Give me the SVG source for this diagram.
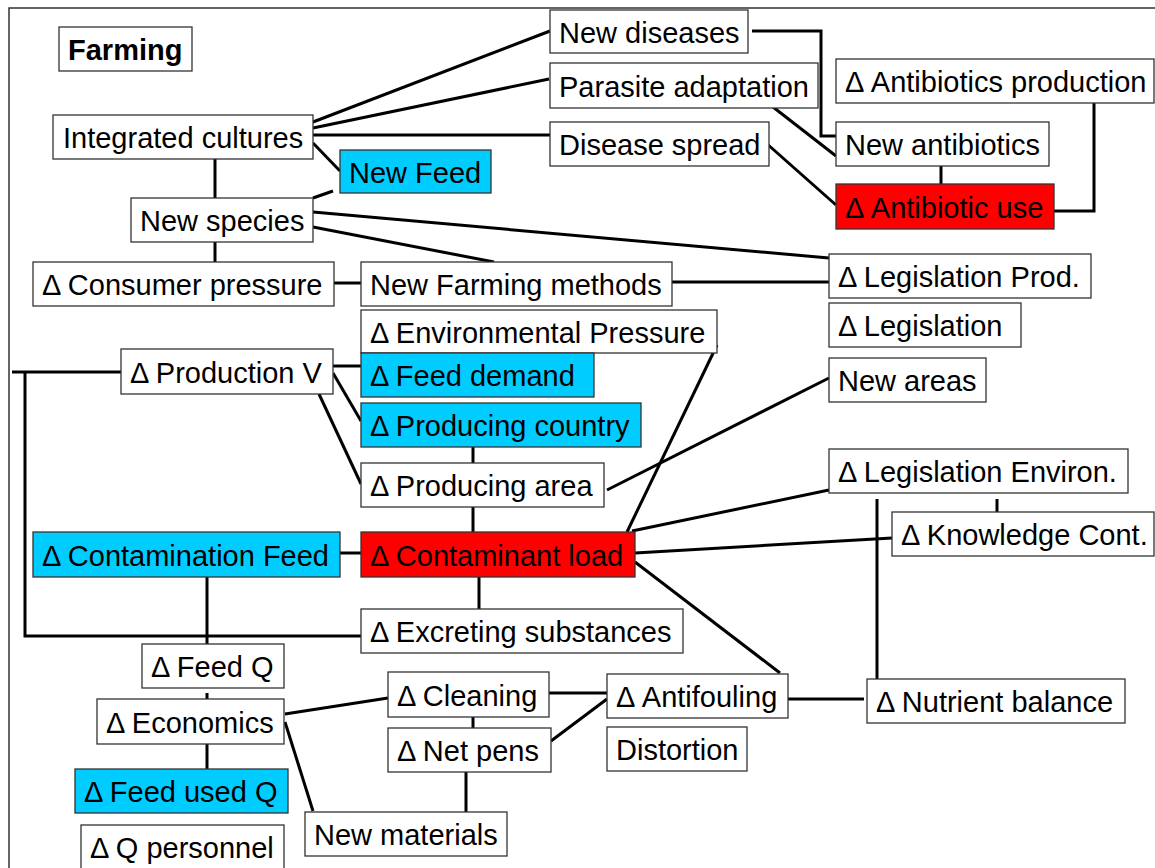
<svg xmlns="http://www.w3.org/2000/svg" width="1155" height="868" viewBox="0 0 1155 868">
<style>
.n rect{stroke:#333;stroke-width:1.3;fill:#fff}
.n.c rect{fill:#00CCFF}
.n.r rect{fill:#FF0000}
.n text{font-family:"Liberation Sans",Arial,sans-serif;font-size:29px;fill:#000}
#conn path{stroke:#000;stroke-width:3;fill:none}
</style>
<rect width="1155" height="868" fill="#fff"/>
<path d="M9,875 V8 H1165" fill="none" stroke="#333" stroke-width="1.5"/>
<g id="conn">
<path d="M313,122 L550,31"/>
<path d="M313,128 L549,79"/>
<path d="M313,135 H550"/>
<path d="M313,143 L340,171"/>
<path d="M215,159 V198"/>
<path d="M313,198 L333,191"/>
<path d="M313,212 L829,258"/>
<path d="M313,227 L494,262"/>
<path d="M215,242 V262"/>
<path d="M334,283 H361"/>
<path d="M672,282 H829"/>
<path d="M752,31 H821 V136 H836"/>
<path d="M773,107 L836,156"/>
<path d="M766,143 L836,205"/>
<path d="M941,166 V184"/>
<path d="M1094,103 V211 H1054"/>
<path d="M12,372 H121"/>
<path d="M25,372 V636 H361"/>
<path d="M333,366 H361"/>
<path d="M333,373 L361,421"/>
<path d="M319,394 L361,484"/>
<path d="M473,447 V463"/>
<path d="M473,507 V532"/>
<path d="M607,490 L829,378"/>
<path d="M627,532 L717,345"/>
<path d="M632,531 L829,490"/>
<path d="M635,553 L892,538"/>
<path d="M635,562 L780,673"/>
<path d="M340,553 H361"/>
<path d="M479,577 V609"/>
<path d="M207,577 V644"/>
<path d="M207,693 V699"/>
<path d="M207,744 V769"/>
<path d="M285,714 L388,698"/>
<path d="M285,722 L313,811"/>
<path d="M473,717 V728"/>
<path d="M466,772 V812"/>
<path d="M549,693 H607"/>
<path d="M551,741 L607,699"/>
<path d="M788,699 H864"/>
<path d="M997,499 V512"/>
<path d="M877,499 V679"/>
</g>
<g id="farming" class="n"><rect x="59" y="27" width="133" height="44"/><text x="68" y="60" font-weight="bold">Farming</text></g>
<g id="integrated" class="n"><rect x="53" y="115" width="260" height="44"/><text x="63" y="148">Integrated cultures</text></g>
<g id="newspecies" class="n"><rect x="131" y="198" width="182" height="44"/><text x="140" y="231">New species</text></g>
<g id="consumer" class="n"><rect x="33" y="262" width="301" height="44"/><text x="42" y="295">Δ Consumer pressure</text></g>
<g id="newfeed" class="n c"><rect x="340" y="150" width="151" height="43"/><text x="349" y="183">New Feed</text></g>
<g id="newfarming" class="n"><rect x="361" y="262" width="311" height="44"/><text x="370" y="295">New Farming methods</text></g>
<g id="newdiseases" class="n"><rect x="550" y="10" width="198" height="43"/><text x="559" y="43">New diseases</text></g>
<g id="parasite" class="n"><rect x="550" y="63" width="268" height="45"/><text x="559" y="97">Parasite adaptation</text></g>
<g id="diseasespread" class="n"><rect x="550" y="122" width="219" height="44"/><text x="559" y="155">Disease spread</text></g>
<g id="antiprod" class="n"><rect x="836" y="59" width="318" height="44"/><text x="845" y="92">Δ Antibiotics production</text></g>
<g id="newantibiotics" class="n"><rect x="836" y="122" width="213" height="44"/><text x="845" y="155">New antibiotics</text></g>
<g id="antiuse" class="n r"><rect x="836" y="184" width="218" height="45"/><text x="845" y="218">Δ Antibiotic use</text></g>
<g id="legprod" class="n"><rect x="829" y="254" width="262" height="44"/><text x="838" y="287">Δ Legislation Prod.</text></g>
<g id="envpressure" class="n"><rect x="361" y="310" width="356" height="43"/><text x="370" y="343">Δ Environmental Pressure</text></g>
<g id="legislation" class="n"><rect x="829" y="303" width="192" height="44"/><text x="838" y="336">Δ Legislation</text></g>
<g id="prodV" class="n"><rect x="121" y="349" width="212" height="45"/><text x="130" y="383">Δ Production V</text></g>
<g id="feeddemand" class="n c"><rect x="361" y="353" width="233" height="44"/><text x="370" y="386">Δ Feed demand</text></g>
<g id="newareas" class="n"><rect x="829" y="358" width="157" height="44"/><text x="838" y="391">New areas</text></g>
<g id="prodcountry" class="n c"><rect x="361" y="403" width="280" height="44"/><text x="370" y="436">Δ Producing country</text></g>
<g id="prodarea" class="n"><rect x="361" y="463" width="243" height="44"/><text x="370" y="496">Δ Producing area</text></g>
<g id="legenv" class="n"><rect x="829" y="449" width="299" height="44"/><text x="838" y="482">Δ Legislation Environ.</text></g>
<g id="knowledge" class="n"><rect x="892" y="512" width="262" height="44"/><text x="901" y="545">Δ Knowledge Cont.</text></g>
<g id="contfeed" class="n c"><rect x="33" y="532" width="307" height="45"/><text x="42" y="566">Δ Contamination Feed</text></g>
<g id="contload" class="n r"><rect x="361" y="532" width="274" height="45"/><text x="370" y="566">Δ Contaminant load</text></g>
<g id="excreting" class="n"><rect x="361" y="609" width="322" height="44"/><text x="370" y="642">Δ Excreting substances</text></g>
<g id="feedQ" class="n"><rect x="142" y="644" width="142" height="44"/><text x="151" y="677">Δ Feed Q</text></g>
<g id="economics" class="n"><rect x="97" y="699" width="187" height="45"/><text x="106" y="733">Δ Economics</text></g>
<g id="cleaning" class="n"><rect x="388" y="672" width="161" height="45"/><text x="397" y="706">Δ Cleaning</text></g>
<g id="antifouling" class="n"><rect x="607" y="674" width="181" height="44"/><text x="616" y="707">Δ Antifouling</text></g>
<g id="nutrient" class="n"><rect x="867" y="679" width="258" height="44"/><text x="876" y="712">Δ Nutrient balance</text></g>
<g id="netpens" class="n"><rect x="388" y="728" width="163" height="44"/><text x="397" y="761">Δ Net pens</text></g>
<g id="distortion" class="n"><rect x="607" y="727" width="140" height="44"/><text x="616" y="760">Distortion</text></g>
<g id="feedused" class="n c"><rect x="75" y="769" width="213" height="44"/><text x="84" y="802">Δ Feed used Q</text></g>
<g id="newmaterials" class="n"><rect x="305" y="812" width="202" height="44"/><text x="314" y="845">New materials</text></g>
<g id="qpersonnel" class="n"><rect x="81" y="825" width="203" height="50"/><text x="90" y="858">Δ Q personnel</text></g>
</svg>
